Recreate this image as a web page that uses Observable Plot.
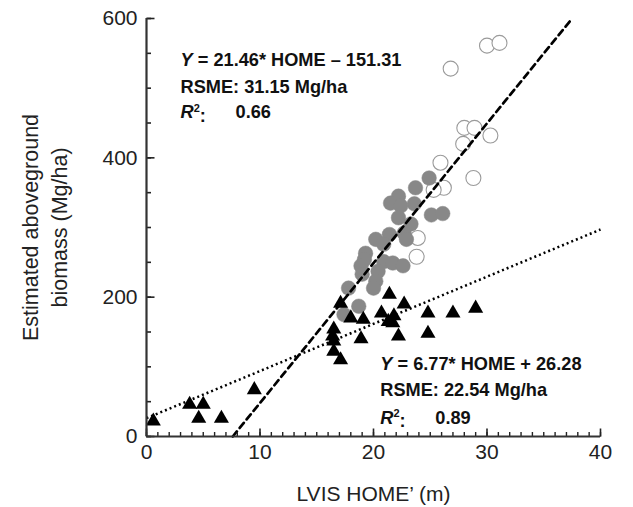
<!DOCTYPE html>
<html>
<head>
<meta charset="utf-8">
<script src="https://cdn.jsdelivr.net/npm/d3@7"></script>
<script src="https://cdn.jsdelivr.net/npm/@observablehq/plot@0.6"></script>
<style>
  html, body { margin: 0; padding: 0; background: #fff; }
  #chart svg { display: block; }
</style>
</head>
<body>
<div id="chart"></div>
<script>
// Open circles (x = HOME', y = biomass)
const openX = [30.0, 31.1, 26.8, 28.0, 28.9, 27.9, 30.3, 25.9, 28.8, 26.2, 25.3, 23.9, 23.8];
const openY = [561, 565, 528, 443, 443, 420, 432, 393, 371, 357, 354, 285, 258];

// Gray filled circles
const grayX = [24.9, 23.7, 22.2, 21.5, 23.6, 22.4, 22.2, 25.1, 26.1, 23.3, 21.4, 20.2, 22.7, 22.9, 20.9, 19.3, 19.2, 20.9, 21.7, 22.6, 18.9, 19.0, 20.4, 20.2, 20.0, 17.8, 18.7, 17.4];
const grayY = [371, 357, 345, 335, 334, 331, 314, 318, 320, 305, 290, 283, 292, 283, 276, 263, 254, 251, 249, 245, 245, 233, 237, 223, 213, 213, 187, 175];

// Black triangles
const triX = [21.4, 17.1, 22.7, 24.8, 27.0, 29.0, 18.0, 19.1, 20.7, 21.3, 21.8, 21.7, 22.2, 24.8, 18.9, 16.5, 16.5, 16.5, 17.1, 16.4, 0.6, 3.8, 5.0, 4.6, 6.6, 9.5];
const triY = [204, 191, 190, 177, 177, 184, 170, 168, 177, 165, 173, 163, 144, 148, 140, 154, 137, 122, 110, 144, 22, 46, 46, 26, 26, 67];

// Regression lines as drawn (endpoints)
const dashedX = [7.6, 37.5];
const dashedY = [0, 600];
const dottedX = [0, 40];
const dottedY = [26.28, 297.1];

// Ticks
const xMinorTicks = d3.range(0, 41, 1);
const xMajorTicks = [0, 10, 20, 30, 40];
const yMinorTicks = d3.range(0, 601, 50);
const yMajorTicks = [0, 200, 400, 600];

// Annotations
const annoMainX = [3.0, 3.0, 20.6, 20.6];
const annoMainY = [540, 502, 104, 66];
const annoMainText = ["Y = 21.46* HOME – 151.31", "RSME: 31.15 Mg/ha", "Y = 6.77* HOME + 26.28", "RSME: 22.54 Mg/ha"];
const annoR2X = [3.0, 20.6];
const annoR2Y = [465, 27];
const annoR2Val = ["0.66", "0.89"];

const openData = openX.map((x, i) => ({x, y: openY[i]}));
const grayData = grayX.map((x, i) => ({x, y: grayY[i]}));
const triData = triX.map((x, i) => ({x, y: triY[i]}));
const dashedData = dashedX.map((x, i) => ({x, y: dashedY[i]}));
const dottedData = dottedX.map((x, i) => ({x, y: dottedY[i]}));
const mainAnno = annoMainText.map((t, i) => ({x: annoMainX[i], y: annoMainY[i], t}));
const r2Anno = annoR2Val.map((v, i) => ({x: annoR2X[i], y: annoR2Y[i], v}));

const font = "'Liberation Sans', Arial, Helvetica, sans-serif";
const W = 633, H = 507, ML = 146, MR = 33, MT = 18, MB = 71;
// tick lengths expressed in data units of each scale (px / (px per unit))
const pxX = (W - ML - MR) / 40, pxY = (H - MT - MB) / 600;

const chart = Plot.plot({
  width: W,
  height: H,
  marginLeft: ML,
  marginRight: MR,
  marginTop: MT,
  marginBottom: MB,
  style: {fontFamily: font, fontSize: "21px", color: "#222", background: "#fff"},
  x: {domain: [0, 40], label: null},
  y: {domain: [0, 600], label: null},
  marks: [
    Plot.dot(openData, {x: "x", y: "y", r: 7.5, fill: "white", stroke: "#9a9a9a", strokeWidth: 1.1}),
    Plot.dot(grayData, {x: "x", y: "y", r: 7.3, fill: "#888", stroke: "#888", strokeWidth: 0.5}),
    Plot.dot(triData, {x: "x", y: "y", r: 5.6, symbol: "triangle", fill: "black"}),
    Plot.line(dashedData, {x: "x", y: "y", stroke: "black", strokeWidth: 2.7, strokeDasharray: "6.5,4.5"}),
    Plot.line(dottedData, {x: "x", y: "y", stroke: "black", strokeWidth: 2.5, strokeDasharray: "2,3", strokeLinecap: "butt"}),
    // inward ticks
    Plot.link(xMinorTicks, {x1: d => d, x2: d => d, y1: 0, y2: 4.5 / pxY, stroke: "#222", strokeWidth: 1.4}),
    Plot.link(xMajorTicks, {x1: d => d, x2: d => d, y1: 0, y2: 8 / pxY, stroke: "#222", strokeWidth: 1.6}),
    Plot.link(yMinorTicks, {y1: d => d, y2: d => d, x1: 0, x2: 4.5 / pxX, stroke: "#222", strokeWidth: 1.6}),
    Plot.link(yMajorTicks, {y1: d => d, y2: d => d, x1: 0, x2: 8 / pxX, stroke: "#222", strokeWidth: 1.6}),
    // axis lines
    Plot.ruleX([0], {stroke: "#333", strokeWidth: 2.2}),
    Plot.ruleY([0], {stroke: "#333", strokeWidth: 2.2}),
    // tick labels and titles
    Plot.axisX({ticks: xMajorTicks, tickSize: 0, tickPadding: 8, fontSize: 21, label: "LVIS HOME’ (m)", labelAnchor: "center", labelOffset: 64, labelArrow: "none"}),
    Plot.axisY({ticks: yMajorTicks, tickSize: 0, tickPadding: 9, fontSize: 21, label: null}),
    Plot.text(["Estimated aboveground\nbiomass (Mg/ha)"], {frameAnchor: "left", textAnchor: "middle", rotate: -90, dx: -103, fontSize: 21.5, lineHeight: 1.35, fill: "#222"}),
    // annotations
    Plot.text(mainAnno, {x: "x", y: "y", text: "t", textAnchor: "start", fontWeight: "bold", fontSize: 18.2, fill: "#111"}),
    Plot.text(r2Anno, {x: "x", y: "y", text: () => "R2:", textAnchor: "start", fontWeight: "bold", fontSize: 18.2, fill: "#111"}),
    Plot.text(r2Anno, {x: "x", y: "y", text: "v", textAnchor: "start", dx: 55, fontWeight: "bold", fontSize: 18.2, fill: "#111"})
  ]
});

document.getElementById("chart").appendChild(chart);

// Rich text: italic Y / R, superscript 2
d3.select(chart).selectAll("text").each(function() {
  const tspans = d3.select(this).selectAll("tspan");
  const target = tspans.empty() ? [this] : tspans.nodes();
  target.forEach(node => {
    const s = node.textContent;
    if (s.startsWith("Y = ")) {
      node.textContent = "";
      const n = d3.select(node);
      n.append("tspan").attr("font-style", "italic").text("Y");
      n.append("tspan").text(s.slice(1));
    } else if (s === "R2:") {
      node.textContent = "";
      const n = d3.select(node);
      n.append("tspan").attr("font-style", "italic").text("R");
      n.append("tspan").attr("font-size", "11px").attr("dy", "-0.55em").text("2");
      n.append("tspan").attr("dy", "0.55em").text(":");
    }
  });
});
</script>
</body>
</html>
